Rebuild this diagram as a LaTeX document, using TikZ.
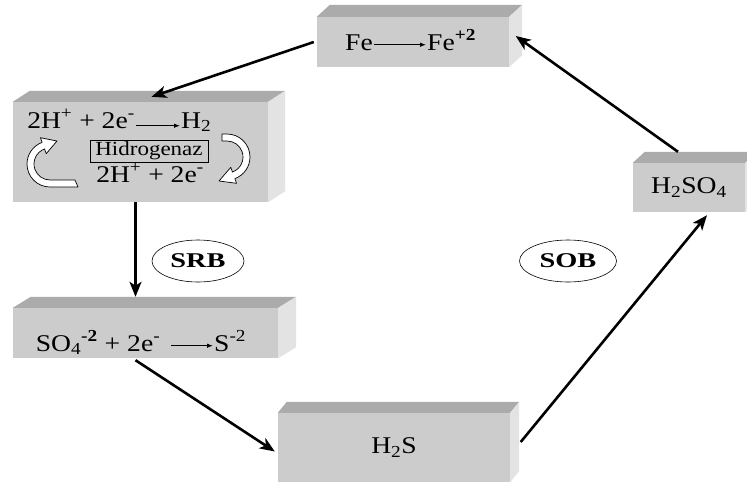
\documentclass[tikz,border=0pt]{standalone}
\usepackage{fontspec}
\setmainfont[FakeStretch=1.15]{Liberation Serif}
\newfontfamily\widebf[FakeStretch=1.35]{Liberation Serif}
\usetikzlibrary{calc,arrows.meta,shapes.geometric}

\begin{document}
\begin{tikzpicture}[x=1pt, y=-1pt,
  font=\fontsize{24}{28}\selectfont,
  front/.style={fill=gray!40, inner sep=0pt},
  topface/.style={fill=gray!66},
  sideface/.style={fill=gray!22},
  txt/.style={inner sep=1pt},
  flow/.style={line width=2.6pt, -{Stealth[length=15pt,width=12pt,inset=4pt]}},
  react/.style={line width=0.9pt, -{Latex[length=6pt,width=4.5pt]}},
  bug/.style={draw, ellipse, line width=0.6pt, inner sep=0pt, font=\fontsize{21}{25}\widebf\bfseries},
  fat/.style={draw=black, fill=white, line width=0.7pt, line join=round}]
  \useasboundingbox (0,0) rectangle (747,485);
  \node[front, minimum width=192pt, minimum height=50pt] (fe) at (413,42) {};
  \node[front, minimum width=255pt, minimum height=100pt] (hyd) at (140.5,152) {};
  \node[front, minimum width=265pt, minimum height=50pt] (so4) at (145.5,333) {};
  \node[front, minimum width=232pt, minimum height=69pt] (h2s) at (394,447.5) {H\textsubscript{2}S};
  \node[front, minimum width=112pt, minimum height=49pt] (h2so4) at (689,187.5) {H\textsubscript{2}SO\textsubscript{4}};
  \foreach \n/\dx/\dy in {fe/13/12, hyd/17/11, so4/18/11, h2s/9/11, h2so4/12/11}{
    \fill[topface] (\n.north west) -- ++(\dx,-\dy) -- ($(\n.north east)+(\dx,-\dy)$) -- (\n.north east) -- cycle;
    \fill[sideface] (\n.north east) -- ++(\dx,-\dy) -- ($(\n.south east)+(\dx,-\dy)$) -- (\n.south east) -- cycle;
    \coordinate (\n-t) at ($(\n.north)+(\dx/2,-\dy)$);
    \coordinate (\n-s) at ($(\n.east)+(\dx/2,-\dy/2)$);
  }
  % Fe -> Fe+2
  \node[txt, anchor=base] (fe1) at (359,50) {Fe};
  \node[txt, anchor=base west] (fe2) at (426,50) {Fe\textsuperscript{\textbf{+2}}};
  \draw[react] ([yshift=3pt]fe1.mid east) -- ([yshift=3pt]fe1.mid east -| fe2.west);
  % hidrogenaz
  \node[txt, anchor=base] (h1) at (81,128) {2H\textsuperscript{+} + 2e\textsuperscript{-}};
  \node[txt, anchor=base west] (h2) at (180,128) {H\textsubscript{2}};
  \draw[react] (h1.mid east) -- (h1.mid east -| h2.west);
  \node[draw, line width=0.6pt, inner sep=0pt, minimum width=118pt, minimum height=22pt,
    font=\fontsize{20}{24}\selectfont] (enz) at (149,151) {Hidrogenaz};
  \node[txt, anchor=base] (h3) at (150,182) {2H\textsuperscript{+} + 2e\textsuperscript{-}};
  \filldraw[fat] (78,187) -- (50,187) arc[start angle=90, end angle=250, radius=23]
    -- ++(250:5) -- (57,141) -- ($(50,164)+(250:11)$) -- ($(50,164)+(250:16)$)
    arc[start angle=250, end angle=90, radius=16] -- (75,180) -- cycle;
  \filldraw[fat] (222,134) -- (227,134) arc[start angle=-90, end angle=70, radius=23]
    -- ++(70:5) -- (219,181) -- ($(227,157)+(70:11)$) -- ($(227,157)+(70:16)$)
    arc[start angle=70, end angle=-90, radius=16] -- (222,141) -- cycle;
  % sulfate
  \node[txt, anchor=base] (s1) at (98,351) {SO\textsubscript{4}\textsuperscript{\textbf{-2}} + 2e\textsuperscript{-}};
  \node[txt, anchor=base west] (s2) at (213,351) {S\textsuperscript{-2}};
  \draw[react] ([xshift=10pt,yshift=3pt]s1.mid east) -- ([yshift=3pt]s1.mid east -| s2.west);
  % bacteria
  \node[bug, minimum width=92pt, minimum height=42pt] (srb) at (198,261) {SRB};
  \node[bug, minimum width=97pt, minimum height=42pt] (sob) at (568,261) {SOB};
  % cycle
  \draw[flow] ([xshift=-3pt]fe.west) -- ([xshift=11pt,yshift=5pt]hyd.north);
  \coordinate (hb) at ([xshift=-5pt]hyd.south);
  \draw[flow] (hb) -- (hb |- so4-t);
  \draw[flow] ([xshift=-10pt,yshift=-2pt]so4.south) -- ([xshift=-3pt,yshift=-4pt]h2s.west);
  \draw[flow] ([xshift=6pt]h2s-s) -- ([xshift=18pt,yshift=-3pt]h2so4.south);
  \draw[flow] ([xshift=-17pt]h2so4-t) -- (fe-s);
\end{tikzpicture}
\end{document}
